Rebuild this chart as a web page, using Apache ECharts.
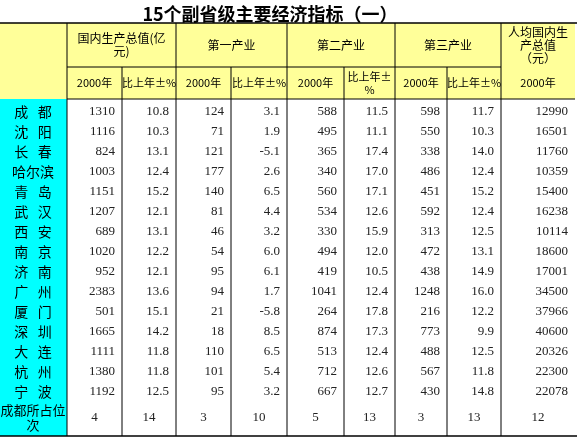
<!DOCTYPE html>
<html><head><meta charset="utf-8">
<script src="https://cdn.jsdelivr.net/npm/echarts@6/dist/echarts.min.js"></script>
<style>html,body{margin:0;padding:0;background:#fff}#c{width:577px;height:442px}</style>
</head><body><div id="c"></div>
<script>
const title = '15个副省级主要经济指标（一）';
const groupHeaders = ['国内生产总值(亿\n元)', '第一产业', '第二产业', '第三产业', '人均国内生\n产总值\n（元）'];
const subHeaders = ['2000年','比上年±%','2000年','比上年±%','2000年','比上年±\n%','2000年','比上年±%','2000年'];
const cities = ['成   都','沈   阳','长   春','哈尔滨','青   岛','武   汉','西   安','南   京','济   南','广   州','厦   门','深   圳','大   连','杭   州','宁   波'];
const gdp = [1310,1116,824,1003,1151,1207,689,1020,952,2383,501,1665,1111,1380,1192];
const gdpGrowth = ['10.8','10.3','13.1','12.4','15.2','12.1','13.1','12.2','12.1','13.6','15.1','14.2','11.8','11.8','12.5'];
const primary = [124,71,121,177,140,81,46,54,95,94,21,18,110,101,95];
const primaryGrowth = ['3.1','1.9','-5.1','2.6','6.5','4.4','3.2','6.0','6.1','1.7','-5.8','8.5','6.5','5.4','3.2'];
const secondary = [588,495,365,340,560,534,330,494,419,1041,264,874,513,712,667];
const secondaryGrowth = ['11.5','11.1','17.4','17.0','17.1','12.6','15.9','12.0','10.5','12.4','17.8','17.3','12.4','12.6','12.7'];
const tertiary = [598,550,338,486,451,592,313,472,438,1248,216,773,488,567,430];
const tertiaryGrowth = ['11.7','10.3','14.0','12.4','15.2','12.4','12.5','13.1','14.9','16.0','12.2','9.9','12.5','11.8','14.8'];
const perCapita = [12990,16501,11760,10359,15400,16238,10114,18600,17001,34500,37966,40600,20326,22300,22078];
const rankLabel = '成都所占位\n次';
const chengduRank = [4,14,3,10,5,13,3,13,12];

// layout
const colX = [0,67,122,176,231,287,344,395,447,501,575];
const yTop = 23, yMid = 67, yHead = 99, rowH = 20, yRank = 400, yBottom = 436;
const cols = [gdp,gdpGrowth,primary,primaryGrowth,secondary,secondaryGrowth,tertiary,tertiaryGrowth,perCapita];

const data = [];
cities.forEach((c,i)=>{
  data.push({kind:'city', r:i, c:-1, v:c});
  cols.forEach((arr,j)=>data.push({kind:'num', r:i, c:j, v:String(arr[i])}));
});
data.push({kind:'rankLabel', r:15, c:-1, v:rankLabel});
chengduRank.forEach((v,j)=>data.push({kind:'rank', r:15, c:j, v:String(v)}));
groupHeaders.forEach((v,g)=>data.push({kind:'group', r:-2, c:g, v}));
subHeaders.forEach((v,j)=>data.push({kind:'sub', r:-1, c:j, v}));

const groupSpan = [[1,3],[3,5],[5,7],[7,9],[9,10]];
const chart = echarts.init(document.getElementById('c'));
const serif = '"Liberation Serif","DejaVu Serif",serif';
const cjk = '"Noto Sans CJK SC",sans-serif';

function renderItem(params, api){
  const d = data[params.dataIndex];
  const P = (x,y)=>api.coord([x,y]);
  const children = [];
  if (d.kind==='city' || d.kind==='num') {
    const yc = yHead + rowH*d.r + rowH/2 + 3;
    if (d.kind==='city') {
      const p = P(colX[0]+33, yc);
      children.push({type:'text', style:{text:d.v, x:p[0], y:p[1], align:'center', verticalAlign:'middle', font:'14px '+cjk, fill:'#000'}});
    } else {
      const p = P(colX[d.c+2]-7, yc);
      children.push({type:'text', style:{text:d.v, x:p[0], y:p[1], align:'right', verticalAlign:'middle', font:'13px '+serif, fill:'#222'}});
    }
  } else if (d.kind==='rankLabel') {
    const p = P(colX[0]+33, (yRank+yBottom)/2);
    children.push({type:'text', style:{text:d.v, x:p[0], y:p[1], align:'center', verticalAlign:'middle', font:'13px '+cjk, lineHeight:15, fill:'#000'}});
  } else if (d.kind==='rank') {
    const p = P((colX[d.c+1]+colX[d.c+2])/2, (yRank+yBottom)/2);
    children.push({type:'text', style:{text:d.v, x:p[0], y:p[1], align:'center', verticalAlign:'middle', font:'13px '+serif, fill:'#222'}});
  } else if (d.kind==='group') {
    const [a,b] = groupSpan[d.c];
    const p = P((colX[a]+colX[b])/2, (yTop+yMid)/2);
    children.push({type:'text', style:{text:d.v, x:p[0], y:p[1], align:'center', verticalAlign:'middle', font:'12px '+cjk, lineHeight:13, fill:'#000'}});
  } else if (d.kind==='sub') {
    const p = P((colX[d.c+1]+colX[d.c+2])/2, (yMid+yHead)/2);
    children.push({type:'text', style:{text:d.v, x:p[0], y:p[1], align:'center', verticalAlign:'middle', font:'11px '+cjk, lineHeight:13, fill:'#000'}});
  }
  return {type:'group', children};
}

function bgItem(params, api){
  const P = (x,y)=>api.coord([x,y]);
  const ch = [];
  const rect=(x0,y0,x1,y1,fill)=>{const a=P(x0,y0),b=P(x1,y1);ch.push({type:'rect',shape:{x:a[0],y:a[1],width:b[0]-a[0],height:b[1]-a[1]},style:{fill}});};
  const line=(x0,y0,x1,y1,w)=>{const a=P(x0,y0),b=P(x1,y1);ch.push({type:'line',shape:{x1:a[0],y1:a[1],x2:b[0],y2:b[1]},style:{stroke:'#000',lineWidth:w||1}});};
  rect(colX[0],yTop,colX[10],yHead,'#FFFF99');
  rect(colX[0],yHead,colX[1],yBottom,'#00FFFF');
  line(0,yTop,577,yTop,1.5);
  line(colX[1],yMid,colX[9],yMid);
  line(colX[1],yHead,colX[10],yHead);
  line(0,yBottom,577,yBottom,1.5);
  [1,3,5,7,9].forEach(i=>line(colX[i],yTop,colX[i],yBottom));
  [2,4,6,8].forEach(i=>line(colX[i],yMid,colX[i],yBottom));
  return {type:'group',children:ch};
}

chart.setOption({
  animation:false,
  title:{text:title, left:265, top:0, textAlign:'center', textStyle:{fontSize:18, fontWeight:'bold', fontFamily:cjk, color:'#000'}},
  grid:{left:0,top:0,right:0,bottom:0},
  xAxis:{type:'value',min:0,max:577,show:false},
  yAxis:{type:'value',min:0,max:442,inverse:true,show:false},
  series:[
    {type:'custom', renderItem:bgItem, data:[0], silent:true, z:1},
    {type:'custom', renderItem, data:data.map((d,i)=>i), silent:true, z:2}
  ]
});
</script></body></html>
